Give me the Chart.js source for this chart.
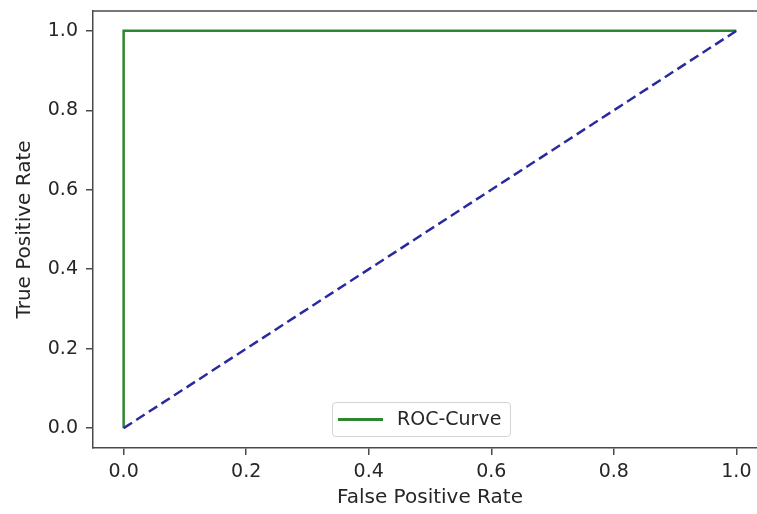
<!DOCTYPE html>
<html>
<head>
<meta charset="utf-8">
<script src="https://cdn.jsdelivr.net/npm/chart.js@4/dist/chart.umd.min.js"></script>
<style>
    html, body { margin: 0; background: #fff; overflow: hidden; }
    #wrap { position: relative; width: 757px; height: 514px; overflow: hidden; background: #fff; }
    #roc { display: block; }
    #legend {
        position: absolute; left: 332px; top: 402px; width: 177px; height: 33px;
        border: 1px solid #d4d4d4; border-radius: 4px; background: rgba(255,255,255,0.8);
        font-family: "DejaVu Sans", sans-serif; font-size: 19px; color: #262626;
    }
    #legend .swatch { position: absolute; left: 5px; top: 15px; width: 45px; height: 3px; }
    #legend .label { position: absolute; left: 64px; top: 4px; white-space: nowrap; }
</style>
</head>
<body>
<div id="wrap">
    <canvas id="roc" width="790" height="514"></canvas>
    <div id="legend"><span class="swatch"></span><span class="label"></span></div>
</div>
<script>
// ROC curve data
const rocName = 'ROC-Curve';
const rocFpr = [0, 0, 1];
const rocTpr = [0, 1, 1];
// chance diagonal
const chanceFpr = [0, 1];
const chanceTpr = [0, 1];
// tick labels
const xTicks = [0, 0.2, 0.4, 0.6, 0.8, 1.0];
const yTicks = [0, 0.2, 0.4, 0.6, 0.8, 1.0];

const rocColor = '#2e862e';
const chanceColor = '#2a2aa0';
const textColor = '#262626';
const axisColor = '#4a4a4a';
const tickFont = { family: 'DejaVu Sans', size: 19 };
const titleFont = { family: 'DejaVu Sans', size: 20 };

const toPoints = (xs, ys) => xs.map((x, i) => ({ x: x, y: ys[i] }));

// legend drawn in HTML so it can sit inside the plot area
document.querySelector('#legend .swatch').style.background = rocColor;
document.querySelector('#legend .label').textContent = rocName;

// pin axis sizes so the plot area lands where the original one is
// (the original is cropped on the right, so the canvas is wider than the page)
const noPad = s => { s.paddingTop = 0; s.paddingBottom = 0; s.paddingLeft = 0; s.paddingRight = 0; };

// top spine of the axes box
const topSpine = {
    id: 'topSpine',
    afterDraw(chart) {
        const { ctx, chartArea } = chart;
        ctx.save();
        ctx.strokeStyle = axisColor;
        ctx.lineWidth = 1.5;
        ctx.beginPath();
        ctx.moveTo(chartArea.left, chartArea.top);
        ctx.lineTo(chartArea.right, chartArea.top);
        ctx.stroke();
        ctx.restore();
    }
};

new Chart(document.getElementById('roc'), {
    type: 'scatter',
    data: {
        datasets: [
            {
                label: 'chance',
                data: toPoints(chanceFpr, chanceTpr),
                showLine: true,
                borderColor: chanceColor,
                borderWidth: 2.5,
                borderDash: [10, 5],
                pointRadius: 0,
                order: 0
            },
            {
                label: rocName,
                data: toPoints(rocFpr, rocTpr),
                showLine: true,
                borderColor: rocColor,
                borderWidth: 2.5,
                pointRadius: 0,
                order: 1
            }
        ]
    },
    options: {
        responsive: false,
        animation: false,
        devicePixelRatio: 1,
        layout: { padding: { left: 0, top: 11, right: 23, bottom: 0 } },
        plugins: {
            legend: { display: false },
            tooltip: { enabled: false }
        },
        scales: {
            x: {
                type: 'linear',
                min: -0.05,
                max: 1.05,
                afterBuildTicks: s => { s.ticks = xTicks.map(v => ({ value: v })); },
                afterFit: s => { s.height = 66; noPad(s); },
                ticks: { font: tickFont, color: textColor, padding: 6, maxRotation: 0, callback: v => v.toFixed(1) },
                grid: { drawOnChartArea: false, drawTicks: true, tickLength: 7, color: axisColor, lineWidth: 1.5 },
                border: { display: true, color: axisColor, width: 1.5 },
                title: { display: true, text: 'False Positive Rate', font: titleFont, color: textColor, padding: { top: 0, bottom: 4 } }
            },
            y: {
                type: 'linear',
                min: -0.05,
                max: 1.05,
                afterBuildTicks: s => { s.ticks = yTicks.map(v => ({ value: v })); },
                afterFit: s => { s.width = 93; noPad(s); },
                ticks: { font: tickFont, color: textColor, padding: 8, callback: v => v.toFixed(1) },
                grid: { drawOnChartArea: false, drawTicks: true, tickLength: 7, color: axisColor, lineWidth: 1.5 },
                border: { display: true, color: axisColor, width: 1.5 },
                title: { display: true, text: 'True Positive Rate', font: titleFont, color: textColor, padding: { top: 13, bottom: 0 } }
            }
        }
    },
    plugins: [topSpine]
});
</script>
</body>
</html>
